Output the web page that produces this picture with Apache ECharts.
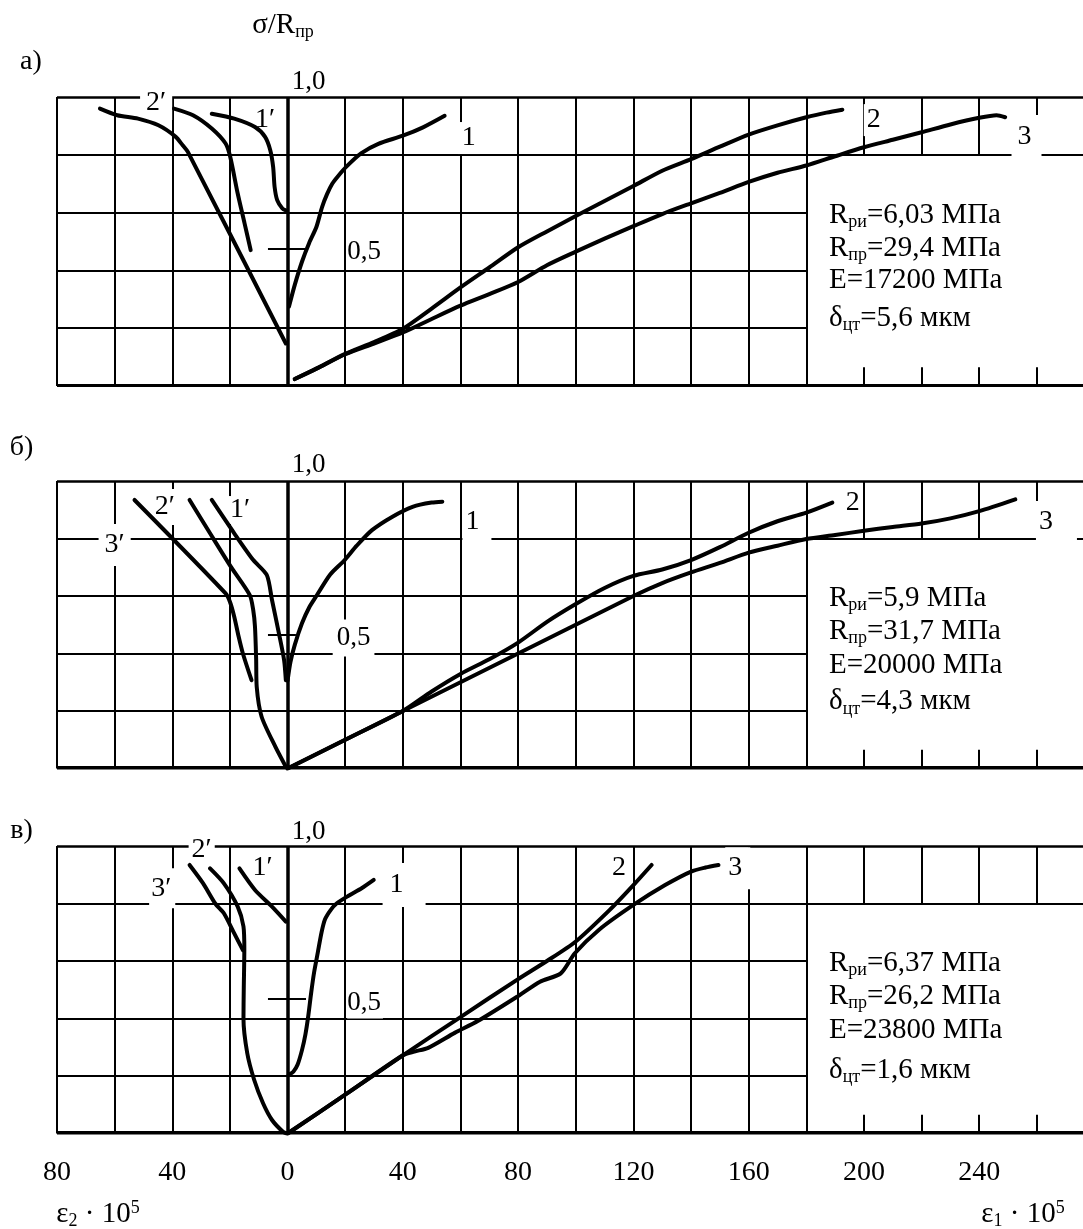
<!DOCTYPE html>
<html><head><meta charset="utf-8">
<script src="https://cdn.jsdelivr.net/npm/echarts/dist/echarts.min.js"></script>
<style>html,body{margin:0;padding:0;background:#fff}#chart{width:1083px;height:1229px}</style>
</head><body><div id="chart"></div>
<script>
// ================= DATA =================
// x: strain ε·10^5 (negative = ε2, positive = ε1), y: σ/Rпр
const xTickLabels = [-80, -40, 0, 40, 80, 120, 160, 200, 240];
const gridX = [-80,-60,-40,-20,0,20,40,60,80,100,120,140,160,180,200,220,240,260];
const gridY = [0.2, 0.4, 0.6, 0.8, 1.0];

// panel а)
const a_c1  = [[0.5,0.275],[2.5,0.35],[5,0.43],[7.5,0.495],[10,0.55],[12,0.62],[13.7,0.664],[15.5,0.7],[17.5,0.726],[20.5,0.76],[25.5,0.805],[31.5,0.838],[40,0.866],[47,0.895],[54.5,0.935]];
const a_c1p = [[-26.3,0.942],[-18.5,0.925],[-11.3,0.896],[-7.8,0.862],[-6.0,0.816],[-5.0,0.758],[-4.5,0.689],[-3.6,0.643],[-1.8,0.614],[-0.6,0.608]];
const a_c2p = [[-39.4,0.96],[-32.8,0.937],[-26.3,0.891],[-21.5,0.839],[-19.9,0.793],[-17.3,0.666],[-14.9,0.562],[-12.8,0.47]];
const a_c3p = [[-65.1,0.96],[-59.1,0.937],[-51.9,0.925],[-44.8,0.902],[-38.8,0.862],[-36.4,0.833],[-34.6,0.81],[-0.6,0.147]];
const a_c2  = [[2.5,0.024],[10,0.06],[20,0.111],[30,0.152],[40,0.198],[50,0.268],[60,0.341],[70,0.41],[80,0.48],[90,0.535],[100,0.588],[110,0.64],[120,0.692],[130,0.745],[140,0.785],[150,0.828],[160,0.87],[170,0.902],[180,0.93],[187,0.946],[192.5,0.956]];
const a_c3  = [[2.5,0.024],[10,0.06],[20,0.11],[30,0.147],[40,0.185],[50,0.232],[60,0.278],[70,0.318],[80,0.36],[90,0.418],[100,0.465],[110,0.51],[120,0.553],[130,0.595],[140,0.632],[150,0.668],[160,0.706],[170,0.738],[180,0.763],[190,0.795],[200,0.826],[210,0.852],[220,0.878],[230,0.905],[240,0.928],[246,0.937],[249,0.93]];

// panel б)
const b_c1  = [[0,0.305],[1,0.37],[2.5,0.43],[5,0.505],[7.5,0.56],[10,0.6],[14.8,0.675],[19.8,0.725],[24,0.775],[29.3,0.829],[36.4,0.876],[43.6,0.911],[50,0.925],[53.7,0.928]];
const b_c1p = [[-26.3,0.934],[-18.5,0.818],[-11.9,0.725],[-7.2,0.673],[-5.4,0.586],[-3.0,0.47],[-1.2,0.377],[-0.6,0.307]];
const b_c2p = [[-34.0,0.934],[-26.9,0.818],[-19.7,0.702],[-13.1,0.603],[-11.9,0.55],[-11.3,0.493],[-10.9,0.38],[-10.7,0.284],[-9.0,0.18],[-4.2,0.075],[-0.6,0.006]];
const b_c3p = [[-53.1,0.934],[-21.5,0.609],[-20,0.58],[-18.5,0.528],[-17,0.46],[-15.5,0.4],[-12.5,0.307]];
const b_c2  = [[0,0],[20,0.1],[40,0.2],[50,0.268],[60,0.329],[70,0.38],[80,0.438],[90,0.51],[100,0.572],[110,0.628],[120,0.67],[130,0.692],[140,0.725],[150,0.77],[160,0.82],[170,0.86],[180,0.89],[189,0.925]];
const b_c3  = [[0,0],[40,0.2],[80,0.4],[120,0.6],[130,0.645],[140,0.682],[150,0.715],[160,0.751],[170,0.775],[180,0.798],[190,0.812],[200,0.827],[210,0.84],[220,0.852],[230,0.87],[240,0.895],[252.5,0.936]];

// panel в)
const c_c1  = [[0.4,0.204],[2,0.215],[3.5,0.24],[5,0.29],[6.2,0.345],[7.2,0.41],[8.2,0.49],[9.2,0.56],[10.5,0.63],[11.8,0.7],[13,0.745],[15,0.778],[17,0.8],[21,0.826],[25.7,0.853],[29.9,0.882]];
const c_c1p = [[-16.7,0.922],[-11.3,0.847],[-5.4,0.789],[-0.6,0.737]];
const c_c2p = [[-26.9,0.922],[-22.1,0.87],[-17.3,0.789],[-15.3,0.72],[-15,0.64],[-15.2,0.5],[-15.3,0.4],[-14,0.28],[-11.6,0.187],[-8.5,0.105],[-5.4,0.047],[-1.6,0.006],[-0.3,0]];
const c_c3p = [[-34.0,0.934],[-29.3,0.87],[-25.1,0.80],[-22.1,0.766],[-18.5,0.696],[-15.5,0.638]];
const c_c2  = [[0,0],[20,0.135],[40,0.272],[60,0.405],[80,0.537],[90,0.6],[100,0.668],[111.7,0.777],[120,0.864],[126.3,0.934]];
const c_c3  = [[0,0],[20,0.135],[40,0.272],[44,0.285],[48.8,0.298],[58,0.35],[66,0.391],[80,0.478],[87.6,0.528],[94.8,0.557],[99.6,0.626],[108,0.708],[120,0.795],[131,0.864],[140,0.911],[145,0.925],[149.5,0.934]];

const Rri   = ['6,03', '5,9', '6,37'];
const Rpr   = ['29,4', '31,7', '26,2'];
const Emod  = ['17200', '20000', '23800'];
const delta = ['5,6', '4,3', '1,6'];

// ================= LAYOUT =================
const FONT = 'Liberation Serif';
const INK = '#000';
const xMin = -80, xMax = 276;
const boxLeft = 180, boxTop = 0.8, tickLen = 0.065;
const gridBoxes = [{top:97,height:289},{top:481,height:287.5},{top:846,height:287.5}];
const halfTick = [{y:0.474,x0:-6.8,x1:6.4},{y:0.464,x0:-6.8,x1:2.9},{y:0.468,x0:-6.8,x1:6.4}];
const annotX = 187.7;
const annotY = [[0.592,0.477,0.367,0.234],[0.593,0.476,0.36,0.232],[0.593,0.476,0.36,0.221]];
const curvesByPanel = [
  [a_c1, a_c1p, a_c2p, a_c3p, a_c2, a_c3],
  [b_c1, b_c1p, b_c2p, b_c3p, b_c2, b_c3],
  [c_c1, c_c1p, c_c2p, c_c3p, c_c2, c_c3]
];
// curve labels: text, anchor (data coords), placement, white padding
const labelsByPanel = [
  [
    {t:'1,0', x:7.3, y:1.053, fs:27},
    {t:'2′', x:-45.6, y:0.979, pad:[3,6,3,6]},
    {t:'1′', x:-7.8, y:0.92, pad:[0,2,0,2]},
    {t:'1', x:62.9, y:0.858, pad:[2,4,2,4]},
    {t:'0,5', x:26.9, y:0.464, fs:27, pad:[2,2,2,0]},
    {t:'2', x:203.4, y:0.92, pad:[2,3,2,3]},
    {t:'3', x:256.4, y:0.862, pad:[8,10,8,6]}
  ],
  [
    {t:'1,0', x:7.3, y:1.056, fs:27},
    {t:'2′', x:-42.6, y:0.91, pad:[4,6,4,6]},
    {t:'1′', x:-16.5, y:0.899, pad:[0,2,0,2]},
    {t:'3′', x:-60, y:0.777, pad:[10,6,4,6]},
    {t:'1', x:60.5, y:0.857, pos:'right', pad:[4,12,6,3]},
    {t:'0,5', x:22.9, y:0.454, fs:27, pad:[6,4,4,4]},
    {t:'2', x:196.1, y:0.923, pad:[2,3,2,3]},
    {t:'3', x:259.5, y:0.857, pos:'right', pad:[6,24,8,3]}
  ],
  [
    {t:'1,0', x:7.3, y:1.049, fs:27},
    {t:'2′', x:-29.8, y:0.986, pad:[2,3,2,3]},
    {t:'1′', x:-8.7, y:0.923, pad:[0,2,0,2]},
    {t:'3′', x:-43.5, y:0.853, pad:[6,4,6,2]},
    {t:'1', x:32.8, y:0.864, pos:'right', pad:[8,22,8,7]},
    {t:'0,5', x:26.9, y:0.454, fs:27, pad:[2,2,2,0]},
    {t:'2', x:115, y:0.923, pad:[2,3,2,3]},
    {t:'3', x:156.2, y:0.923, pad:[7,8,7,3]}
  ]
];

const mainRich = {
  m: {fontSize:29, fontFamily:FONT, color:INK},
  s: {fontSize:18, fontFamily:FONT, color:INK, padding:[14,0,0,0]},
  p: {fontSize:18, fontFamily:FONT, color:INK, padding:[0,0,12,0]}
};

function gridSegments(p) {
  const segs = [];
  gridX.forEach(x => {
    if (x === 0) segs.push({coords:[[0,0],[0,1]], lineStyle:{width:3.5}});
    else if (x <= boxLeft) segs.push({coords:[[x,0],[x,1]]});
    else {
      segs.push({coords:[[x,boxTop],[x,1]]});
      segs.push({coords:[[x,0],[x,tickLen]]});
    }
  });
  gridY.forEach(y => {
    segs.push({coords:[[xMin,y],[y >= boxTop ? xMax : boxLeft, y]], lineStyle:{width: y === 1 ? 2.5 : 2}});
  });
  segs.push({coords:[[xMin,0],[xMax,0]], lineStyle:{width:5}});
  const h = halfTick[p];
  segs.push({coords:[[h.x0,h.y],[h.x1,h.y]]});
  return segs;
}

const series = [];
for (let p = 0; p < 3; p++) {
  series.push({
    type:'lines', coordinateSystem:'cartesian2d', xAxisIndex:p, yAxisIndex:p,
    silent:true, z:1, polyline:false,
    lineStyle:{color:INK, width:2, opacity:1, curveness:0},
    data: gridSegments(p)
  });
  const lbls = labelsByPanel[p].map(l => ({
    value:[l.x, l.y],
    label:{
      show:true, position: l.pos || 'inside', distance:0, opacity:1,
      formatter: l.t, fontSize: l.fs || 28, fontFamily:FONT, color:INK,
      textBorderWidth:0, textShadowBlur:0,
      backgroundColor: l.pad ? '#fff' : 'transparent', padding: l.pad || 0
    }
  }));
  const annTexts = [
    '{m|R}{s|ри}{m|=' + Rri[p] + ' МПа}',
    '{m|R}{s|пр}{m|=' + Rpr[p] + ' МПа}',
    '{m|E=' + Emod[p] + ' МПа}',
    '{m|δ}{s|цт}{m|=' + delta[p] + ' мкм}'
  ];
  annTexts.forEach((txt, k) => {
    lbls.push({
      value:[annotX, annotY[p][k]],
      label:{show:true, position:'right', distance:0, opacity:1, formatter: () => txt, rich: mainRich}
    });
  });
  series.push({
    type:'scatter', xAxisIndex:p, yAxisIndex:p, silent:true, z:2, clip:false,
    symbol:'circle', symbolSize:1, itemStyle:{color:'rgba(255,255,255,0)', opacity:1},
    label:{show:true, color:INK, fontFamily:FONT, opacity:1},
    labelLayout:{hideOverlap:false},
    data: lbls
  });
  curvesByPanel[p].forEach(c => {
    series.push({
      type:'line', xAxisIndex:p, yAxisIndex:p, silent:true, z:3,
      data:c, showSymbol:false, symbol:'none', smooth:0.25,
      lineStyle:{color:INK, width:4, cap:'round', join:'round', opacity:1}
    });
  });
}

const option = {
  animation:false,
  backgroundColor:'#fff',
  textStyle:{fontFamily:FONT},
  grid: gridBoxes.map(g => ({left:57, right:0, top:g.top, height:g.height, containLabel:false, outerBoundsMode:'none'})),
  xAxis: [0,1,2].map(i => ({
    gridIndex:i, type:'value', min:xMin, max:xMax, interval:20,
    axisLine:{show:false}, axisTick:{show:false}, splitLine:{show:false},
    axisLabel: i === 2 ? {
      show:true, fontSize:28, color:INK, fontFamily:FONT, margin:25,
      showMaxLabel:false,
      formatter: v => (xTickLabels.indexOf(v) >= 0 ? String(Math.abs(v)) : '')
    } : {show:false}
  })),
  yAxis: [0,1,2].map(i => ({gridIndex:i, type:'value', min:0, max:1, interval:0.2, show:false})),
  graphic: [
    {type:'text', x:283, y:25, style:{text:'{m|σ/R}{s|пр}', rich:mainRich, align:'center', verticalAlign:'middle'}},
    {type:'text', x:31, y:62, style:{text:'а)', fontSize:28, fontFamily:FONT, fill:INK, align:'center', verticalAlign:'middle'}},
    {type:'text', x:21.5, y:448, style:{text:'б)', fontSize:28, fontFamily:FONT, fill:INK, align:'center', verticalAlign:'middle'}},
    {type:'text', x:21.5, y:831, style:{text:'в)', fontSize:28, fontFamily:FONT, fill:INK, align:'center', verticalAlign:'middle'}},
    {type:'text', x:98, y:1214, style:{text:'{m|ε}{s|2}{m| · 10}{p|5}', rich:mainRich, align:'center', verticalAlign:'middle'}},
    {type:'text', x:1023, y:1214, style:{text:'{m|ε}{s|1}{m| · 10}{p|5}', rich:mainRich, align:'center', verticalAlign:'middle'}}
  ],
  series: series
};

const chart = echarts.init(document.getElementById('chart'), null, {renderer:'canvas', width:1083, height:1229});
chart.setOption(option);
</script>
</body></html>
